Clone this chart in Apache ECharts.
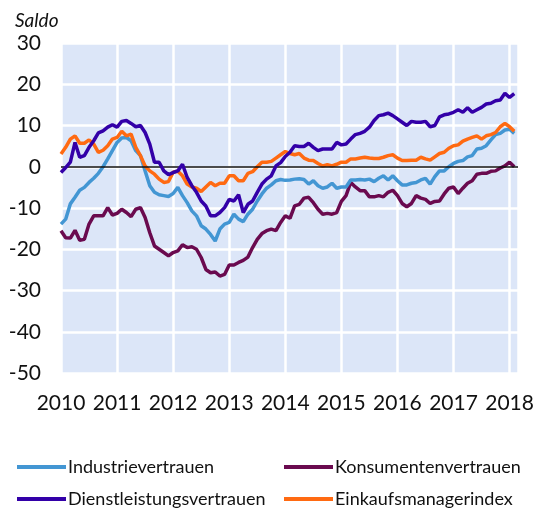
<!DOCTYPE html>
<html>
<head>
<meta charset="utf-8">
<script src="https://cdn.jsdelivr.net/npm/echarts@6/dist/echarts.min.js"></script>
<style>
  html, body { margin: 0; padding: 0; background: #fff; }
  #chart { width: 540px; height: 511px; }
</style>
</head>
<body>
<div id="chart"></div>
<script>
// monthly values, Jan 2010 .. Feb 2018
var startYear = 2010;
var yTicks = [-50, -40, -30, -20, -10, 0, 10, 20, 30];

var industrie = [-13.9,-12.7,-9,-7.4,-5.7,-5,-3.8,-2.8,-1.6,0,
    1.9,3.9,5.9,7,7.1,6.3,3.9,2.7,-1,-4.6,
    -6.2,-6.8,-7,-7.2,-6.5,-5,-7,-8.7,-10.7,-11.9,
    -14.3,-15.1,-16.4,-18,-15.1,-13.9,-13.5,-11.5,-12.7,-13.3,
    -11.5,-10.3,-8.3,-6.6,-5.2,-4.4,-3.4,-3.1,-3.3,-3.2,
    -3,-2.9,-3.1,-4.2,-3.4,-4.6,-5.2,-4.9,-4,-5.2,
    -4.9,-4.9,-3.2,-3.2,-3.1,-3.2,-3,-3.6,-2.8,-2.2,
    -3.2,-2.2,-3.4,-4.4,-4.4,-4,-3.8,-3.2,-2.8,-4.2,
    -2.4,-1,-1,0,0.8,1.3,1.5,2.4,2.7,4.3,
    4.5,5.1,6.5,7.8,8.1,8.9,9.1,8.1];

var konsum = [-15.5,-17.2,-17.3,-15.4,-17.8,-17.6,-13.9,-11.9,-11.9,-11.9,
    -9.9,-11.7,-11.3,-10.3,-11.1,-12.1,-10.3,-9.9,-12.3,-16,
    -19.2,-20,-20.8,-21.6,-20.8,-20.4,-18.9,-19.6,-19.4,-20,
    -22,-24.9,-25.7,-25.5,-26.5,-26.1,-23.8,-23.8,-23.2,-22.7,
    -21.9,-19.6,-17.6,-16.2,-15.5,-15.1,-15.5,-13.5,-11.9,-12.5,
    -9.5,-9.1,-7.6,-7.4,-8.7,-10.3,-11.5,-11.3,-11.5,-11.1,
    -8.4,-7,-3.8,-4.9,-5.8,-5.8,-7.3,-7.3,-7,-7.3,
    -6.2,-5.7,-7,-8.9,-9.7,-8.9,-7,-7.6,-7.9,-8.9,
    -8.4,-8.3,-6.6,-5.2,-4.9,-6.5,-5.2,-4,-3.4,-1.8,
    -1.6,-1.6,-1.1,-1,-0.3,0.2,1.1,0];

var dienst = [-1.4,-0.2,1.1,5.9,2.3,2.7,4.7,6.3,8.2,8.7,
    9.6,10.2,9.6,11,11.2,10.5,9.7,10,8.3,5.5,
    1.1,1.1,-1,-1.9,-1.4,-1,0.6,-2.6,-4.6,-6.2,
    -8.3,-9.5,-11.9,-11.9,-11.1,-9.9,-7.9,-8.3,-6.8,-11.1,
    -9.1,-8.3,-6.2,-4.2,-3,-2.2,0.2,1,2.5,3.5,
    5.1,4.9,4.9,5.7,4.7,3.9,4.3,4.3,4.3,5.9,
    5.3,5.5,6.7,7.8,8.1,8.6,9.6,11.2,12.4,12.6,
    13,12.4,11.6,10.8,10,11,10.8,10.8,11,9.7,
    10,12.1,12.6,12.8,13.2,13.8,13.2,14.3,13.2,13.8,
    14.4,15.2,15.4,16,16.2,17.8,16.8,17.7];

var einkauf = [3.1,4.7,6.7,7.5,5.7,5.7,6.5,5.5,3.5,4,
    5.1,6.7,7.1,8.6,7.5,7.9,4.7,2.7,0.2,-1,
    -1.8,-3,-3.8,-3.6,-1.3,-1.1,-2.2,-4.2,-4.9,-5.2,
    -6,-4.9,-3.8,-4.6,-4,-4,-2.2,-2.2,-3.4,-3.4,
    -1.6,-1.2,0,1.1,1.1,1.3,2.1,2.9,3.7,3.2,
    2.9,3.2,2.1,1.6,1.5,0.8,0.2,0.5,0.2,0.6,
    1.1,1.1,1.9,1.9,2.1,2.3,2.1,2,2,2.3,
    2.7,2.9,2.1,1.5,1.5,1.6,1.6,2.3,1.9,1.6,
    2.4,3.2,3.5,4.5,5.1,5.3,6.2,6.7,7.1,7.5,
    6.7,7.5,7.8,8.3,9.7,10.5,9.7,8.6];

var names = ['Industrievertrauen', 'Konsumentenvertrauen', 'Dienstleistungsvertrauen', 'Einkaufsmanagerindex'];
var colors = ['#4396d3', '#6a0a4f', '#3300a8', '#ff6a12'];

function pairs(arr) {
    return arr.map(function (v, i) { return [i, v]; });
}

var chart = echarts.init(document.getElementById('chart'));

var font = 'Lato, "Open Sans", sans-serif';

function legendAt(name, left, top) {
    return {
        data: [name],
        left: left,
        top: top,
        icon: 'rect',
        itemWidth: 49,
        itemHeight: 4,
        itemGap: 0,
        padding: 0,
        textStyle: { fontFamily: font, fontSize: 18, color: '#111', padding: [0, 0, 0, -3] }
    };
}

function lineSeries(idx, arr, z) {
    return {
        name: names[idx],
        type: 'line',
        data: pairs(arr),
        showSymbol: false,
        color: colors[idx],
        z: z,
        lineStyle: { width: 3.5, color: colors[idx] }
    };
}

var option = {
    animation: false,
    title: {
        text: 'Saldo',
        left: 10,
        top: 6,
        textStyle: { fontFamily: font, fontSize: 19, fontStyle: 'italic', fontWeight: 'normal', color: '#111' }
    },
    legend: [
        legendAt(names[0], 17, 458),
        legendAt(names[1], 284, 458),
        legendAt(names[2], 17, 490),
        legendAt(names[3], 284, 490)
    ],
    grid: {
        left: 61, right: 22, top: 43, bottom: 138,
        show: true,
        backgroundColor: '#dce6f8',
        borderWidth: 0
    },
    xAxis: {
        type: 'value',
        min: 0,
        max: 97.8,
        interval: 12,
        axisLine: { show: false },
        axisTick: { show: false },
        splitLine: { lineStyle: { color: '#fff', width: 2.5 } },
        axisLabel: {
            margin: 20,
            fontFamily: font,
            fontSize: 21,
            color: '#111',
            formatter: function (v) {
                return v % 12 === 0 ? String(startYear + v / 12) : '';
            }
        }
    },
    yAxis: {
        type: 'value',
        min: yTicks[0],
        max: yTicks[yTicks.length - 1],
        interval: 10,
        axisLine: { show: false },
        axisTick: { show: false },
        splitLine: { lineStyle: { color: '#fff', width: 2.5 } },
        axisLabel: { margin: 20, fontFamily: font, fontSize: 21, color: '#111' }
    },
    series: [
        lineSeries(1, konsum, 2),
        lineSeries(0, industrie, 3),
        lineSeries(3, einkauf, 4),
        lineSeries(2, dienst, 5),
        {
            type: 'line',
            data: [],
            silent: true,
            z: 1,
            markLine: {
                silent: true,
                symbol: 'none',
                label: { show: false },
                lineStyle: { color: '#111', width: 1.5, type: 'solid' },
                data: [{ yAxis: 0 }]
            }
        }
    ]
};

chart.setOption(option);
</script>
</body>
</html>
